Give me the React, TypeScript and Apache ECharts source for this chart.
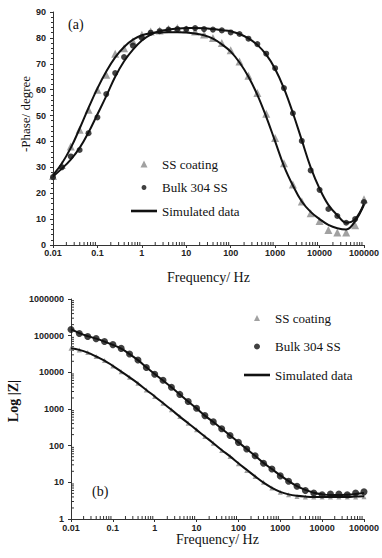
import React, { useEffect, useRef } from "react";
import * as echarts from "echarts";

const freq = [0.01, 0.0158, 0.0251, 0.0398, 0.0631, 0.1, 0.158, 0.251, 0.398, 0.631, 1, 1.58, 2.51, 3.98, 6.31, 10, 15.8, 25.1, 39.8, 63.1, 100, 158, 251, 398, 631, 1000, 1580, 2510, 3980, 6310, 10000, 15800, 25100, 39800, 63100, 100000];

const phaseCoating = [26.7, 30.9, 38.0, 44.5, 52.2, 60.0, 65.8, 73.9, 76.0, 78.7, 81.2, 82.5, 82.9, 83.4, 83.8, 83.3, 82.5, 81.3, 80.0, 78.0, 75.2, 70.9, 65.4, 58.7, 50.7, 41.3, 31.6, 23.4, 16.8, 12.3, 9.3, 5.8, 4.8, 4.8, 7.6, 17.7];
const phaseBulk = [26.2, 30.0, 34.2, 36.7, 43.2, 49.3, 58.3, 66.4, 72.6, 77.0, 80.0, 82.0, 82.6, 83.2, 83.4, 83.4, 83.8, 83.4, 83.2, 82.9, 82.1, 81.5, 79.7, 77.6, 73.9, 68.3, 60.6, 50.9, 40.2, 28.8, 21.3, 13.9, 11.2, 8.6, 10.0, 16.6];
const phaseSimCoating = [27, 31.5, 37.5, 45, 53, 60.5, 67, 72.5, 76.5, 79.3, 81, 81.8, 82.1, 82.2, 82.2, 82.1, 81.7, 81, 79.7, 77.5, 74.7, 70.5, 65, 58, 49.5, 40, 30.5, 23, 16.8, 12.8, 10, 7.8, 6.5, 6.0, 9.2, 15.5];
const phaseSimBulk = [26.5, 29.5, 33, 37.5, 43.5, 50.5, 57.5, 65, 71, 75.5, 79, 81.3, 82.6, 83.2, 83.6, 83.8, 83.8, 83.7, 83.4, 83.0, 82.6, 81.5, 79.8, 77.3, 73.5, 68, 60.5, 51, 40.5, 30, 21.8, 15.5, 11.5, 8.6, 10, 16];

const zCoating = [45200, 40700, 34600, 26900, 20900, 14800, 10400, 7350, 5000, 3300, 2180, 1440, 950, 620, 410, 270, 178, 117, 74, 51, 32, 21, 14.5, 10, 7, 5.4, 4.6, 4.1, 4.0, 4.0, 3.95, 3.95, 3.95, 4.0, 4.0, 4.05];
const zBulk = [148000, 115000, 95000, 83000, 69000, 57000, 45000, 31500, 21700, 13500, 8900, 6100, 3900, 2500, 1600, 1050, 660, 445, 290, 190, 123, 81, 53, 33, 23, 15, 10.7, 7.8, 6.0, 5.1, 4.6, 4.8, 4.8, 4.6, 5.1, 5.5];
const zSimCoating = [45500, 41000, 34500, 27000, 21000, 15000, 10500, 7300, 5000, 3300, 2200, 1450, 950, 620, 410, 270, 178, 117, 76, 51, 33, 22, 14.5, 9.8, 7.1, 5.5, 4.7, 4.3, 4.1, 4.0, 4.0, 4.0, 4.0, 4.0, 4.1, 4.2];
const zSimBulk = [150000, 117000, 97000, 83000, 69000, 56000, 44000, 31500, 21500, 13800, 9000, 6000, 3900, 2500, 1600, 1040, 660, 440, 290, 190, 124, 81, 53, 34, 23, 15.5, 10.8, 7.9, 6.2, 5.2, 4.7, 4.5, 4.5, 4.6, 4.8, 5.1];

const xTickLabels = ["0.01", "0.1", "1", "10", "100", "1000", "10000", "100000"];
const zTickLabels = ["1", "10", "100", "1000", "10000", "100000", "1000000"];
const seriesNames = ["SS coating", "Bulk 304 SS", "Simulated data"];
const minorMultipliers = [2, 3, 4, 5, 6, 7, 8, 9];
const xDecades = [0.01, 0.1, 1, 10, 100, 1000, 10000];
const zDecades = [1, 10, 100, 1000, 10000, 100000];

const SERIF = "Liberation Serif";
const SANS = "Liberation Sans";
const AXIS_COLOR = "#333";
const SMALL_DOT = "path://M0,0L0,0M10,10L10,10M5,1.5A3.5,3.5,0,1,1,4.99,1.5Z";
const TRI = "path://M5,0L10,10L0,10Z";
const FLAT = "path://M0,0L10,0L10,1L0,1Z";

function minorList(decades: number[]) {
  const out: number[] = [];
  decades.forEach((d) => minorMultipliers.forEach((m) => out.push(d * m)));
  return out;
}

export default function App() {
  const ref = useRef<HTMLDivElement>(null);
  useEffect(() => {
    if (!ref.current) return;
    const chart = echarts.init(ref.current, undefined, { renderer: "svg" });
    const xMinor = minorList(xDecades);
    const zMinor = minorList(zDecades);

    const labelStyle = { fontFamily: SANS, fontSize: 9, fontWeight: "bold" as const, color: "#222" };
    const xAxisBase = (gridIndex: number, nameGap: number, margin: number) => ({
      type: "log" as const,
      gridIndex,
      logBase: 10,
      min: 0.01,
      max: 100000,
      splitNumber: 7,
      axisLine: { lineStyle: { color: AXIS_COLOR, width: 1 } },
      axisTick: { show: true, inside: false, length: 3, lineStyle: { color: AXIS_COLOR } },
      splitLine: { show: false },
      axisLabel: {
        ...labelStyle,
        margin,
        formatter: (v: number) => xTickLabels[Math.round(Math.log10(v)) + 2] ?? "",
      },
      name: "Frequency/ Hz",
      nameLocation: "middle" as const,
      nameGap,
      nameTextStyle: { fontFamily: SERIF, fontSize: 14, color: "#111" },
    });

    const minorTickX = (xAxisIndex: number, yBase: number) => ({
      type: "custom" as const,
      xAxisIndex,
      yAxisIndex: xAxisIndex,
      silent: true,
      clip: false,
      z: 1,
      data: xMinor.map((f) => [f, yBase]),
      renderItem: (_p: any, api: any) => {
        const p = api.coord([api.value(0), api.value(1)]);
        return {
          type: "line",
          shape: { x1: p[0], y1: p[1], x2: p[0], y2: p[1] - 3 },
          style: { stroke: AXIS_COLOR, lineWidth: 1 },
        };
      },
    });

    const legendText = { fontFamily: SERIF, fontSize: 13, color: "#111" };

    const option: any = {
      animation: false,
      backgroundColor: "#fff",
      grid: [
        { left: 53, right: 14, top: 12, bottom: 313 },
        { left: 71, right: 18, top: 299, bottom: 39 },
      ],
      legend: [
        {
          data: [
            { name: seriesNames[0], icon: TRI },
            { name: seriesNames[1], icon: SMALL_DOT },
            { name: seriesNames[2], icon: FLAT },
          ],
          orient: "vertical",
          left: 131,
          top: 157.5,
          padding: 0,
          itemWidth: 26,
          itemHeight: 7,
          itemGap: 10.5,
          symbolKeepAspect: true,
          textStyle: legendText,
          selectedMode: false,
        },
        {
          data: [
            { name: seriesNames[0], icon: TRI },
            { name: seriesNames[1], icon: "circle" },
            { name: seriesNames[2], icon: FLAT },
          ],
          orient: "vertical",
          left: 244,
          top: 311.5,
          padding: 0,
          itemWidth: 26,
          itemHeight: 6,
          itemGap: 15.5,
          symbolKeepAspect: true,
          textStyle: legendText,
          selectedMode: false,
        },
      ],
      xAxis: [xAxisBase(0, 25, 3), xAxisBase(1, 13, 4)],
      yAxis: [
        {
          type: "value",
          gridIndex: 0,
          min: 0,
          max: 90,
          interval: 10,
          axisLine: { show: true, lineStyle: { color: AXIS_COLOR, width: 1 } },
          axisTick: { show: true, length: 3, lineStyle: { color: AXIS_COLOR } },
          minorTick: { show: true, splitNumber: 5, length: 2, lineStyle: { color: AXIS_COLOR } },
          splitLine: { show: false },
          axisLabel: { ...labelStyle, margin: 7 },
        },
        {
          type: "log",
          gridIndex: 1,
          logBase: 10,
          min: 1,
          max: 1000000,
          splitNumber: 6,
          axisLine: { show: true, lineStyle: { color: AXIS_COLOR, width: 1 } },
          axisTick: { show: true, length: 3, lineStyle: { color: AXIS_COLOR } },
          splitLine: { show: false },
          axisLabel: {
            ...labelStyle,
            margin: 7,
            formatter: (v: number) => zTickLabels[Math.round(Math.log10(v))] ?? "",
          },
        },
      ],
      graphic: [
        { type: "text", left: 68, top: 17, style: { text: "(a)", font: `14px "${SERIF}"`, fill: "#111" } },
        { type: "text", left: 92, top: 484, style: { text: "(b)", font: `14px "${SERIF}"`, fill: "#111" } },
        {
          type: "text",
          x: 25,
          y: 114,
          rotation: Math.PI / 2,
          style: { text: "-Phase/ degree", font: `13px "${SERIF}"`, fill: "#111", align: "center", verticalAlign: "middle" },
        },
        {
          type: "text",
          x: 13,
          y: 401,
          rotation: Math.PI / 2,
          style: { text: "Log |Z|", font: `bold 14px "${SERIF}"`, fill: "#111", align: "center", verticalAlign: "middle" },
        },
      ],
      series: [
        minorTickX(0, 0),
        minorTickX(1, 1),
        {
          type: "custom",
          xAxisIndex: 1,
          yAxisIndex: 1,
          silent: true,
          clip: false,
          z: 1,
          data: zMinor.map((v) => [0.01, v]),
          renderItem: (_p: any, api: any) => {
            const p = api.coord([api.value(0), api.value(1)]);
            return {
              type: "line",
              shape: { x1: p[0], y1: p[1], x2: p[0] + 3, y2: p[1] },
              style: { stroke: AXIS_COLOR, lineWidth: 1 },
            };
          },
        },
        {
          name: "SS coating",
          type: "scatter",
          xAxisIndex: 0,
          yAxisIndex: 0,
          symbol: "triangle",
          symbolSize: 8,
          itemStyle: { color: "#8a8a8a" },
          data: freq.map((f, i) => [f, phaseCoating[i]]),
          z: 2,
        },
        {
          name: "Bulk 304 SS",
          type: "scatter",
          xAxisIndex: 0,
          yAxisIndex: 0,
          symbol: "circle",
          symbolSize: 6,
          itemStyle: { color: "#111" },
          data: freq.map((f, i) => [f, phaseBulk[i]]),
          z: 2,
        },
        {
          name: "Simulated data",
          type: "line",
          xAxisIndex: 0,
          yAxisIndex: 0,
          smooth: 0.4,
          symbol: "none",
          lineStyle: { color: "#111", width: 2 },
          itemStyle: { color: "#111" },
          data: freq.map((f, i) => [f, phaseSimCoating[i]]),
          z: 3,
        },
        {
          name: "Simulated data",
          type: "line",
          xAxisIndex: 0,
          yAxisIndex: 0,
          smooth: 0.4,
          symbol: "none",
          lineStyle: { color: "#111", width: 2 },
          itemStyle: { color: "#111" },
          data: freq.map((f, i) => [f, phaseSimBulk[i]]),
          z: 3,
        },
        {
          name: "SS coating",
          type: "scatter",
          xAxisIndex: 1,
          yAxisIndex: 1,
          symbol: "triangle",
          symbolSize: 5,
          itemStyle: { color: "#8a8a8a" },
          data: freq.map((f, i) => [f, zCoating[i]]),
          z: 2,
        },
        {
          name: "Bulk 304 SS",
          type: "scatter",
          xAxisIndex: 1,
          yAxisIndex: 1,
          symbol: "circle",
          symbolSize: 7,
          itemStyle: { color: "#111" },
          data: freq.map((f, i) => [f, zBulk[i]]),
          z: 2,
        },
        {
          name: "Simulated data",
          type: "line",
          xAxisIndex: 1,
          yAxisIndex: 1,
          smooth: 0.4,
          symbol: "none",
          lineStyle: { color: "#111", width: 2 },
          itemStyle: { color: "#111" },
          data: freq.map((f, i) => [f, zSimCoating[i]]),
          z: 3,
        },
        {
          name: "Simulated data",
          type: "line",
          xAxisIndex: 1,
          yAxisIndex: 1,
          smooth: 0.4,
          symbol: "none",
          lineStyle: { color: "#111", width: 2 },
          itemStyle: { color: "#111" },
          data: freq.map((f, i) => [f, zSimBulk[i]]),
          z: 3,
        },
      ],
    };
    chart.setOption(option);
    return () => chart.dispose();
  }, []);

  return (
    <div
      ref={ref}
      style={{ position: "absolute", left: 0, top: 0, width: 382, height: 558, background: "#fff" }}
    />
  );
}
